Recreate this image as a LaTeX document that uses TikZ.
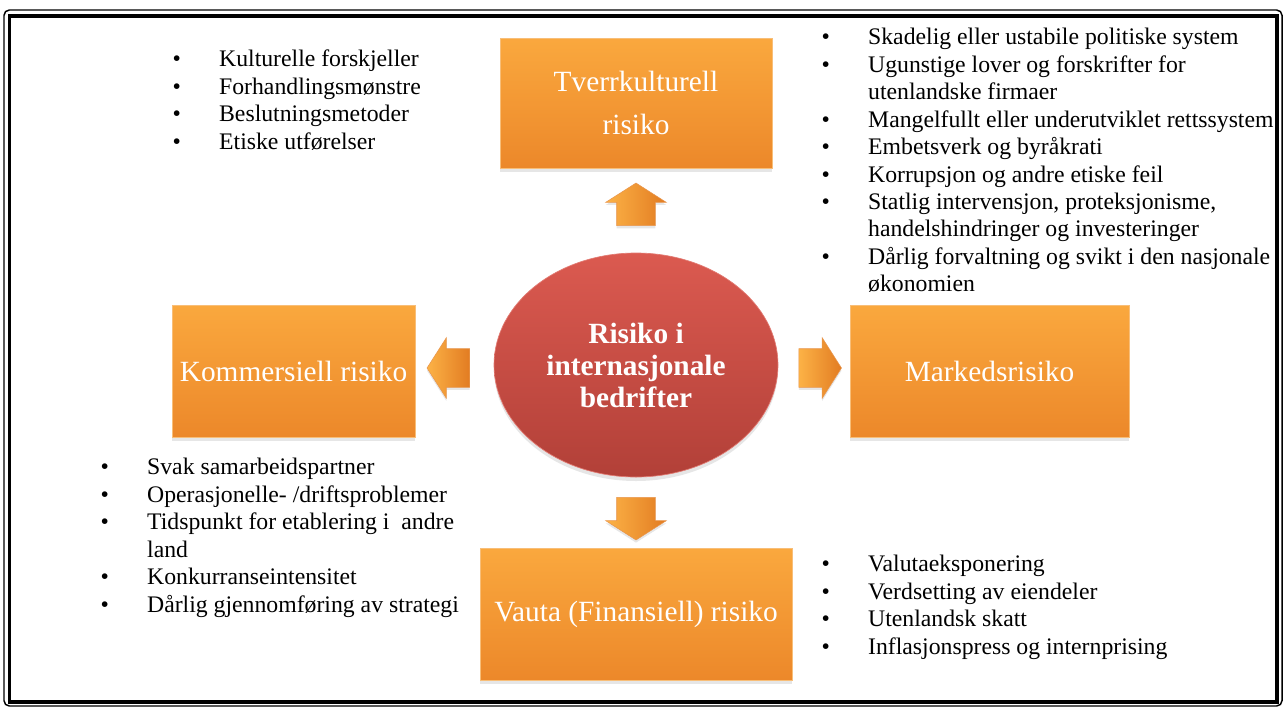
\documentclass[tikz,border=0pt]{standalone}
\usepackage{fontspec}
\setmainfont{Liberation Serif}
\usetikzlibrary{shapes.geometric,shapes.arrows,shadows,calc}

\definecolor{boxTop}{RGB}{250,168,62}
\definecolor{boxBot}{RGB}{236,136,42}
\definecolor{boxEdge}{RGB}{248,190,120}
\definecolor{arrTop}{RGB}{252,178,70}
\definecolor{arrBot}{RGB}{226,124,34}
\definecolor{coreTop}{RGB}{219,90,80}
\definecolor{coreBot}{RGB}{178,64,56}

\tikzset{every picture/.style={line width=0.75pt}}
\tikzset{
  riskbox/.style={rectangle, draw=boxEdge, line width=0.5pt, top color=boxTop, bottom color=boxBot,
    text=white, font=\fontsize{22}{32}\selectfont, align=center, inner sep=0pt,
    drop shadow={opacity=0.2, shadow xshift=0pt, shadow yshift=-3pt}},
  blockarrow/.style={single arrow, draw=arrBot!80!white, line width=0.4pt, left color=arrTop, right color=arrBot,
    inner xsep=0pt, inner ysep=14.25pt, minimum width=45pt, minimum height=32pt, single arrow head extend=8.25pt,
    single arrow tip angle=115, drop shadow={opacity=0.2, shadow xshift=0pt, shadow yshift=-2pt}},
  bullist/.style={anchor=north west, inner sep=0pt, font=\fontsize{17.8}{20.6}\selectfont}
}
\newcommand{\bul}{\textbullet}

\begin{document}
\begin{tikzpicture}[x=0.75pt,y=0.75pt,yscale=-1,xscale=1]

\useasboundingbox (0,0) rectangle (1284,707);

%Frame
\draw [line width=1.1pt, rounded corners=4pt] (4,10) rectangle (1282,706);
\draw [line width=2.3pt] (9.5,16) rectangle (1277,702);

%Ellipse
\node [ellipse, top color=coreTop, bottom color=coreBot, draw=coreTop!80!white, line width=0.5pt,
  minimum width=213pt, minimum height=168pt, text=white, align=center,
  font=\bfseries\fontsize{22}{24}\selectfont,
  drop shadow={opacity=0.2, shadow xshift=0pt, shadow yshift=-3pt}] (core) at (636,365)
  {Risiko i\\internasjonale\\bedrifter};

%Rounded Rect
\node [riskbox, minimum width=204pt, minimum height=97.5pt] (tverr) at (636,103) {Tverrkulturell\\risiko};
\node [riskbox, minimum width=182.25pt, minimum height=99pt] (komm) at (293.5,371) {Kommersiell risiko};
\node [riskbox, minimum width=209.25pt, minimum height=99pt] (marked) at (989.5,371) {Markedsrisiko};
\node [riskbox, minimum width=234pt, minimum height=99pt] (vauta) at (636,614) {Vauta (Finansiell) risiko};

%Block arrows
\node [blockarrow, rotate=90] (upArr) at ($(core.north)!0.5!(tverr.south)$) {};
\node [blockarrow, rotate=180] (leftArr) at ($(core.west)!0.5!(komm.east)$) {};
\node [blockarrow] (rightArr) at ($(core.east)!0.5!(marked.west)$) {};
\node [blockarrow, rotate=-90] (downArr) at ($(core.south)!0.5!(vauta.north)$) {};

% Text Node
\node [bullist] (kulturList) at (172,47) {\begin{tabular}{@{}p{35pt}@{}l@{}}
\bul & Kulturelle forskjeller\\
\bul & Forhandlingsmønstre\\
\bul & Beslutningsmetoder\\
\bul & Etiske utførelser
\end{tabular}};
% Text Node
\node [bullist] (markedList) at (821,25) {\begin{tabular}{@{}p{35pt}@{}l@{}}
\bul & Skadelig eller ustabile politiske system\\
\bul & Ugunstige lover og forskrifter for\\
     & utenlandske firmaer\\
\bul & Mangelfullt eller underutviklet rettssystem\\
\bul & Embetsverk og byråkrati\\
\bul & Korrupsjon og andre etiske feil\\
\bul & Statlig intervensjon, proteksjonisme,\\
     & handelshindringer og investeringer\\
\bul & Dårlig forvaltning og svikt i den nasjonale\\
     & økonomien
\end{tabular}};
% Text Node
\node [bullist] (kommList) at (100,455) {\begin{tabular}{@{}p{35pt}@{}l@{}}
\bul & Svak samarbeidspartner\\
\bul & Operasjonelle- /driftsproblemer\\
\bul & Tidspunkt for etablering i~ andre\\
     & land\\
\bul & Konkurranseintensitet\\
\bul & Dårlig gjennomføring av strategi
\end{tabular}};
% Text Node
\node [bullist] (vautaList) at (821,552) {\begin{tabular}{@{}p{35pt}@{}l@{}}
\bul & Valutaeksponering\\
\bul & Verdsetting av eiendeler\\
\bul & Utenlandsk skatt\\
\bul & Inflasjonspress og internprising
\end{tabular}};

\end{tikzpicture}
\end{document}
